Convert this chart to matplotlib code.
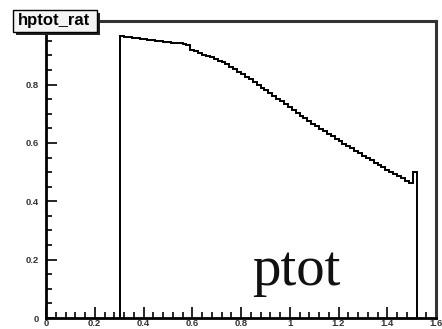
import numpy as np
import matplotlib
matplotlib.use("Agg")
import matplotlib.pyplot as plt
from matplotlib.ticker import MultipleLocator, FixedLocator
from matplotlib.patches import Rectangle

# ---- data ----
bin_start = 0.304
bin_width = 0.016
ratio_values = [
    0.966, 0.964, 0.963, 0.961, 0.959, 0.958, 0.956, 0.954, 0.952, 0.951,
    0.949, 0.947, 0.946, 0.944, 0.942, 0.941, 0.939, 0.937,
    0.919, 0.914, 0.909, 0.903, 0.898, 0.893, 0.887, 0.882, 0.876, 0.869,
    0.862, 0.853, 0.844, 0.836, 0.827, 0.818, 0.809, 0.799, 0.790, 0.781,
    0.771, 0.762, 0.752, 0.743, 0.733, 0.724, 0.714, 0.704, 0.694, 0.685,
    0.675, 0.666, 0.658, 0.649, 0.641, 0.632, 0.624, 0.615, 0.607, 0.598,
    0.590, 0.581, 0.573, 0.564, 0.556, 0.548, 0.540, 0.532, 0.524, 0.516,
    0.508, 0.501, 0.494, 0.486, 0.479, 0.471, 0.464, 0.500,
]
x_ticks = [0, 0.2, 0.4, 0.6, 0.8, 1, 1.2, 1.4, 1.6]
x_tick_labels = ["0", "0.2", "0.4", "0.6", "0.8", "1", "1.2", "1.4", "1.6"]
y_ticks = [0, 0.2, 0.4, 0.6, 0.8]
y_tick_labels = ["0", "0.2", "0.4", "0.6", "0.8"]
title = "hptot_rat"
annotation = "ptot"

edges = bin_start + bin_width * np.arange(len(ratio_values) + 1)

W, H = 442, 329
fig = plt.figure(figsize=(W / 100, H / 100), dpi=100)
fig.patch.set_facecolor("white")
ax = fig.add_axes([46 / W, (H - 318) / H, 390 / W, 297 / H])
ax.set_xlim(0, 1.6)
ax.set_ylim(0, 1.018)

ax.stairs(ratio_values, edges, baseline=0, color="black", linewidth=1.4)

for side in ["left", "bottom"]:
    ax.spines[side].set_linewidth(2.0)
    ax.spines[side].set_color("black")
for side in ["top", "right"]:
    ax.spines[side].set_linewidth(2.2)
    ax.spines[side].set_color("#333333")

ax.xaxis.set_major_locator(FixedLocator(x_ticks))
ax.set_xticklabels(x_tick_labels)
ax.xaxis.set_minor_locator(MultipleLocator(0.04))
ax.yaxis.set_major_locator(FixedLocator(y_ticks))
ax.set_yticklabels(y_tick_labels)
ax.yaxis.set_minor_locator(MultipleLocator(0.05))

ax.tick_params(which="both", direction="in", top=False, right=False, width=1.2, color="black")
ax.tick_params(which="major", length=8)
ax.tick_params(which="minor", length=4)
ax.tick_params(axis="x", pad=1)
ax.tick_params(axis="y", pad=5)
for lab in ax.get_xticklabels() + ax.get_yticklabels():
    lab.set_fontsize(6.8)
    lab.set_fontweight("bold")
    lab.set_color("#333333")
    lab.set_family("Liberation Sans")

ax.text(0.528, 0.11, annotation, transform=ax.transAxes, fontsize=41,
        family="Liberation Serif", color="#111111", ha="left", va="baseline")

# title box with shadow
fig.patches.append(Rectangle((16 / W, 1 - 35 / H), 84 / W, 22 / H,
                             transform=fig.transFigure, facecolor="#222222",
                             edgecolor="none", zorder=5))
fig.patches.append(Rectangle((13 / W, 1 - 32 / H), 84 / W, 22 / H,
                             transform=fig.transFigure, facecolor="#f4f4f4",
                             edgecolor="black", linewidth=1.0, zorder=6))
fig.text(54 / W, 1 - 21 / H, title, fontsize=12, fontweight="bold",
         family="Liberation Sans", ha="center", va="center", zorder=7)

fig.savefig("out.png", dpi=100)
